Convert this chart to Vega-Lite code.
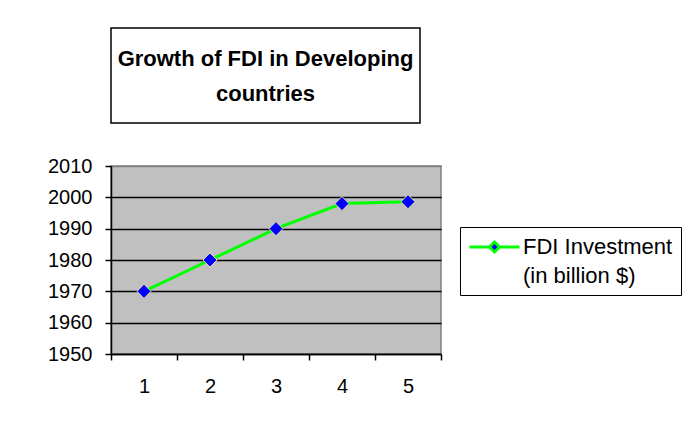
{
  "$schema": "https://vega.github.io/schema/vega-lite/v6.json",
  "background": "white",
  "padding": {"left": 46, "top": 27, "right": 0, "bottom": 10},
  "autosize": {"type": "pad"},
  "bounds": "flush",
  "spacing": 43,
  "config": {"font": "Liberation Sans"},
  "resolve": {"scale": {"color": "independent"}, "legend": {"color": "independent"}},
  "vconcat": [
    {
      "width": 309,
      "height": 95,
      "view": {"stroke": "black", "strokeWidth": 1.5, "fill": "white"},
      "data": {"values": [{"t": "Growth of FDI in Developing\ncountries"}]},
      "mark": {"type": "text", "lineBreak": "\n", "fontSize": 22, "fontWeight": "bold", "lineHeight": 35, "dy": -17, "align": "center", "baseline": "middle", "font": "Liberation Sans", "color": "black"},
      "encoding": {"text": {"field": "t"}}
    },
    {
      "width": 330,
      "height": 188,
      "view": {"fill": "#C0C0C0", "stroke": "#808080", "strokeWidth": 1.5},
      "data": {"values": [
        {"idx": 1, "fdi": 1970},
        {"idx": 2, "fdi": 1980},
        {"idx": 3, "fdi": 1990},
        {"idx": 4, "fdi": 1998},
        {"idx": 5, "fdi": 1998.6}
      ]},
      "encoding": {
        "x": {"field": "idx", "type": "ordinal",
          "scale": {"type": "band", "paddingInner": 0, "paddingOuter": 0},
          "axis": {"title": null, "labelAngle": 0, "tickBand": "extent", "tickSize": 6, "tickColor": "black", "tickWidth": 1.5, "domainColor": "black", "domainWidth": 1.5, "labelFont": "Liberation Sans", "labelFontSize": 20, "labelColor": "black", "labelPadding": 16, "grid": false}},
        "y": {"field": "fdi", "type": "quantitative",
          "scale": {"domain": [1950, 2010], "nice": false, "zero": false},
          "axis": {"title": null, "values": [1950, 1960, 1970, 1980, 1990, 2000, 2010], "format": "d", "tickSize": 6, "tickColor": "black", "tickWidth": 1.5, "domainColor": "black", "domainWidth": 1.5, "labelFont": "Liberation Sans", "labelFontSize": 20, "labelColor": "black", "labelPadding": 13, "grid": true, "gridColor": {"condition": {"test": "datum.value >= 2010", "value": "#808080"}, "value": "black"}, "gridWidth": 1.5}}
      },
      "layer": [
        {
          "mark": {"type": "line", "strokeWidth": 3},
          "encoding": {
            "color": {"datum": "FDI Investment", "scale": {"range": ["#00ff00"]},
              "legend": {
                "orient": "none", "legendX": 349, "legendY": 61, "title": null,
                "strokeColor": "black", "fillColor": "white", "padding": 8,
                "symbolType": "M-1,-0.58L-0.2,-0.58M0.2,-0.58L1,-0.58M0,-0.78L0.2,-0.58L0,-0.38L-0.2,-0.58Z",
                "symbolSize": 2500, "symbolStrokeColor": "#00ff00", "symbolFillColor": "#0000ff", "symbolStrokeWidth": 3,
                "labelFont": "Liberation Sans", "labelFontSize": 22, "labelColor": "black", "labelOffset": 2, "labelLimit": 300,
                "labelExpr": "['FDI Investment', '(in billion $)']",
                "encode": {
                  "symbols": {"update": {"fill": {"value": "#0000ff"}, "stroke": {"value": "#00ff00"}, "strokeWidth": {"value": 3}, "opacity": {"value": 1}}},
                  "labels": {"update": {"lineHeight": {"value": 29}, "dy": {"value": -14.5}}}
                }
              }}
          }
        },
        {
          "mark": {"type": "point", "shape": "diamond", "filled": true, "fill": "#0000ff", "size": 200, "stroke": "#e8e0a0", "strokeWidth": 1, "opacity": 1}
        }
      ]
    }
  ]
}
